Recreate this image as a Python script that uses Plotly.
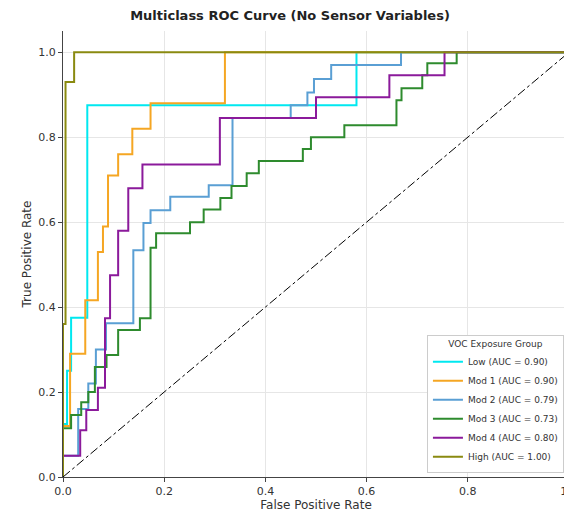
import plotly.graph_objects as go

# ROC curve corner points
low_fpr = [0, 0, 0.008, 0.008, 0.016, 0.016, 0.048, 0.048, 0.58, 0.58, 1]
low_tpr = [0, 0.125, 0.125, 0.25, 0.25, 0.375, 0.375, 0.875, 0.875, 1.0, 1]

mod1_fpr = [0, 0, 0.014, 0.014, 0.044, 0.044, 0.069, 0.069, 0.079, 0.079, 0.089, 0.089,
            0.109, 0.109, 0.137, 0.137, 0.173, 0.173, 0.32, 0.32, 1]
mod1_tpr = [0, 0.12, 0.12, 0.29, 0.29, 0.416, 0.416, 0.53, 0.53, 0.59, 0.59, 0.71,
            0.71, 0.76, 0.76, 0.82, 0.82, 0.88, 0.88, 1.0, 1]

mod2_fpr = [0, 0, 0.03, 0.03, 0.05, 0.05, 0.065, 0.065, 0.085, 0.085, 0.139, 0.139, 0.159, 0.159,
            0.173, 0.173, 0.212, 0.212, 0.288, 0.288, 0.335, 0.335, 0.45, 0.45, 0.483, 0.483,
            0.496, 0.496, 0.53, 0.53, 0.668, 0.668, 1]
mod2_tpr = [0, 0.05, 0.05, 0.16, 0.16, 0.22, 0.22, 0.30, 0.30, 0.362, 0.362, 0.534, 0.534, 0.598,
            0.598, 0.628, 0.628, 0.66, 0.66, 0.687, 0.687, 0.845, 0.845, 0.875, 0.875, 0.905,
            0.905, 0.937, 0.937, 0.97, 0.97, 1.0, 1]

mod3_fpr = [0, 0, 0.016, 0.016, 0.036, 0.036, 0.05, 0.05, 0.063, 0.063, 0.086, 0.086, 0.109, 0.109,
            0.152, 0.152, 0.173, 0.173, 0.184, 0.184, 0.251, 0.251, 0.278, 0.278, 0.311, 0.311,
            0.333, 0.333, 0.363, 0.363, 0.387, 0.387, 0.474, 0.474, 0.49, 0.49, 0.556, 0.556,
            0.659, 0.659, 0.669, 0.669, 0.71, 0.71, 0.72, 0.72, 0.778, 0.778, 1]
mod3_tpr = [0, 0.115, 0.115, 0.146, 0.146, 0.176, 0.176, 0.2, 0.2, 0.259, 0.259, 0.287, 0.287, 0.346,
            0.346, 0.374, 0.374, 0.54, 0.54, 0.574, 0.574, 0.6, 0.6, 0.63, 0.63, 0.657,
            0.657, 0.685, 0.685, 0.715, 0.715, 0.744, 0.744, 0.772, 0.772, 0.8, 0.8, 0.828,
            0.828, 0.887, 0.887, 0.915, 0.915, 0.946, 0.946, 0.974, 0.974, 1.0, 1]

mod4_fpr = [0, 0, 0.034, 0.034, 0.046, 0.046, 0.069, 0.069, 0.083, 0.083, 0.093, 0.093, 0.109, 0.109,
            0.129, 0.129, 0.157, 0.157, 0.31, 0.31, 0.5, 0.5, 0.645, 0.645, 0.754, 0.754, 1]
mod4_tpr = [0, 0.05, 0.05, 0.11, 0.11, 0.158, 0.158, 0.21, 0.21, 0.374, 0.374, 0.475, 0.475, 0.58,
            0.58, 0.68, 0.68, 0.736, 0.736, 0.845, 0.845, 0.894, 0.894, 0.946, 0.946, 1.0, 1]

high_fpr = [0, 0, 0.005, 0.005, 0.022, 0.022, 1]
high_tpr = [0, 0.36, 0.36, 0.93, 0.93, 1.0, 1]

series_names = ["Low", "Mod 1", "Mod 2", "Mod 3", "Mod 4", "High"]
auc_values = [0.90, 0.90, 0.79, 0.73, 0.80, 1.00]
series_fpr = [low_fpr, mod1_fpr, mod2_fpr, mod3_fpr, mod4_fpr, high_fpr]
series_tpr = [low_tpr, mod1_tpr, mod2_tpr, mod3_tpr, mod4_tpr, high_tpr]
colors = ["#00e8f0", "#f5a623", "#5a9fd4", "#2e8b2e", "#8b1a9b", "#8a8a10"]

x_ticks = [0.0, 0.2, 0.4, 0.6, 0.8, 1.0]
y_ticks = [0.0, 0.2, 0.4, 0.6, 0.8, 1.0]

fig = go.Figure()
for name, auc, fx, ty, c in zip(series_names, auc_values, series_fpr, series_tpr, colors):
    fig.add_trace(go.Scatter(x=fx, y=ty, mode="lines", name=f"{name} (AUC = {auc:.2f})",
                             line=dict(color=c, width=2)))

fig.add_trace(go.Scatter(x=[0, 1], y=[0, 1], mode="lines", showlegend=False,
                         line=dict(color="black", width=1, dash="dashdot")))

# page body has an 8px margin, so the figure is sized to fit the 572x513 window
fig.update_layout(
    width=564, height=505,
    margin=dict(l=55, r=3, t=23, b=36, autoexpand=False),
    paper_bgcolor="white", plot_bgcolor="white",
    font=dict(family="DejaVu Sans", size=10, color="#333"),
    title=dict(text="<b>Multiclass ROC Curve (No Sensor Variables)</b>", x=0.5, xanchor="center",
               xref="container", y=0.995, yanchor="top", font=dict(size=13, color="#222")),
    legend=dict(title=dict(text="VOC Exposure Group", font=dict(size=9), side="top center"),
                x=0.99, y=0.01, xanchor="right", yanchor="bottom",
                bgcolor="white", bordercolor="#cccccc", borderwidth=1,
                font=dict(size=9), tracegroupgap=0),
)
fig.update_xaxes(range=[0, 1], tickvals=x_ticks, ticktext=[f"{v:.1f}" for v in x_ticks],
                 showgrid=True, gridcolor="#e6e6e6", showline=True, linecolor="#444",
                 ticks="outside", ticklen=4, tickcolor="#444", zeroline=False,
                 tickfont=dict(size=11), automargin=False, ticklabeloverflow="allow",
                 title=dict(text="False Positive Rate", standoff=2, font=dict(size=12)))
fig.update_yaxes(range=[0, 1.05], tickvals=y_ticks, ticktext=[f"{v:.1f}" for v in y_ticks],
                 showgrid=True, gridcolor="#e6e6e6", showline=True, linecolor="#444",
                 ticks="outside", ticklen=4, tickcolor="#444", zeroline=False,
                 tickfont=dict(size=11), automargin=False,
                 title=dict(text="True Positive Rate", standoff=4, font=dict(size=12)))

fig.write_html("out.html")
